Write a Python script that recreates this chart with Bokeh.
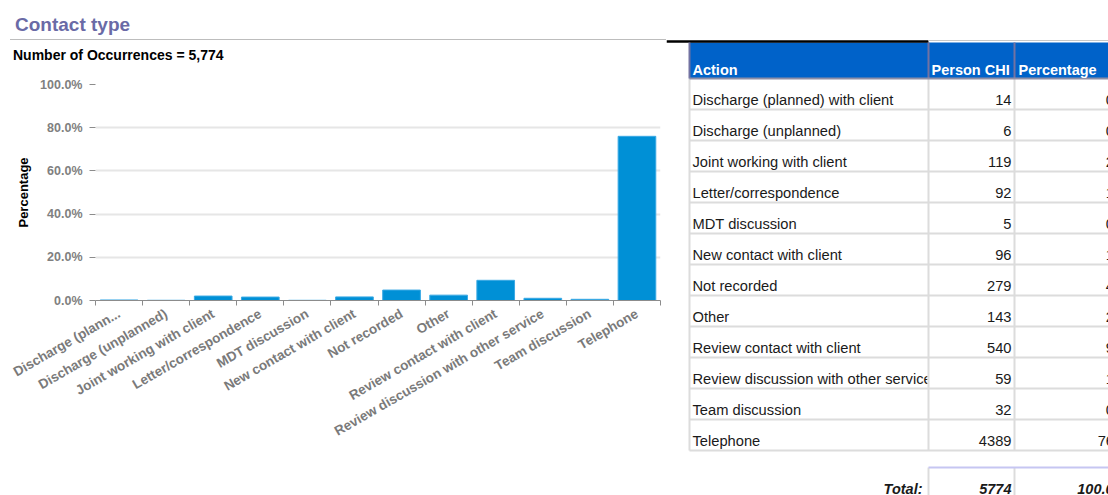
import math
from bokeh.plotting import figure
from bokeh.layouts import row, column
from bokeh.models import Range1d, FixedTicker, PrintfTickFormatter, Div
from bokeh.core.properties import value
from bokeh.embed import file_html
from bokeh.resources import INLINE

# ---------------- data ----------------
categories = ["Discharge (planned) with client", "Discharge (unplanned)", "Joint working with client",
              "Letter/correspondence", "MDT discussion", "New contact with client", "Not recorded",
              "Other", "Review contact with client", "Review discussion with other service",
              "Team discussion", "Telephone"]
tick_labels = ["Discharge (plann...", "Discharge (unplanned)", "Joint working with client",
               "Letter/correspondence", "MDT discussion", "New contact with client", "Not recorded",
               "Other", "Review contact with client", "Review discussion with other service",
               "Team discussion", "Telephone"]
counts = [14, 6, 119, 92, 5, 96, 279, 143, 540, 59, 32, 4389]
percentages = [0.24, 0.10, 2.06, 1.59, 0.09, 1.66, 4.83, 2.48, 9.35, 1.02, 0.55, 76.01]
pct_labels = ["0.24%", "0.10%", "2.06%", "1.59%", "0.09%", "1.66%", "4.83%", "2.48%",
              "9.35%", "1.02%", "0.55%", "76.01%"]
total_count = 5774
total_pct = "100.00%"
y_ticks = [0, 20, 40, 60, 80, 100]
header = ["Action", "Person CHI", "Percentage"]
page_title = "Contact type"

FONT = "Liberation Sans"
n = len(categories)

# ---------------- top strip (title, rule, subtitle) ----------------
top_html = (
    '<div style="position:relative;width:666px;height:65px;font-family:\'Liberation Sans\',Arial,sans-serif;">'
    '<div style="position:absolute;left:15px;top:15px;font-size:19px;line-height:19px;font-weight:bold;'
    'color:#6a6aa6;white-space:nowrap;">{title}</div>'
    '<div style="position:absolute;left:10px;top:39px;width:656px;height:0;border-top:1px solid #bdbdbd;"></div>'
    '<div style="position:absolute;left:13px;top:48px;font-size:14px;line-height:14px;font-weight:bold;'
    'color:#000;white-space:nowrap;">{sub}</div>'
    '</div>'
).format(title=page_title, sub="Number of Occurrences = {:,}".format(total_count))
top = Div(text=top_html, width=666, height=65, margin=(0, 0, 0, 0))

# ---------------- bar chart ----------------
centers = [i + 0.5 for i in range(n)]
bounds = list(range(n + 1))

chart = figure(width=666, height=430, x_range=Range1d(0, n), y_range=Range1d(0, 100),
               output_backend="svg", toolbar_location=None,
               min_border_left=95, min_border_right=6, min_border_top=19, min_border_bottom=195,
               outline_line_color=None)
chart.vbar(x=centers, top=percentages, bottom=0, width=0.8,
           fill_color="#0090d6", line_color="#3aa9e4", line_width=1)

xa = chart.xaxis[0]
xa.ticker = FixedTicker(ticks=centers, minor_ticks=bounds)
xa.major_label_overrides = {c: lab for c, lab in zip(centers, tick_labels)}
xa.major_label_orientation = math.pi / 6
xa.major_tick_line_color = None
xa.major_tick_out = 0
xa.major_tick_in = 0
xa.minor_tick_line_color = "#8c8c8c"
xa.minor_tick_out = 5
xa.minor_tick_in = 0
xa.axis_line_color = "#8c8c8c"
xa.major_label_text_font = FONT
xa.major_label_text_font_size = "13.5px"
xa.major_label_text_font_style = "bold"
xa.major_label_text_color = "#7a7a7a"
xa.major_label_standoff = 7

ya = chart.yaxis[0]
ya.ticker = FixedTicker(ticks=y_ticks)
ya.formatter = PrintfTickFormatter(format="%.1f%%")
ya.axis_line_color = None
ya.major_tick_out = 6
ya.major_tick_in = 0
ya.major_tick_line_color = "#8c8c8c"
ya.minor_tick_line_color = None
ya.major_label_standoff = 7
ya.major_label_text_font = FONT
ya.major_label_text_font_size = "12.5px"
ya.major_label_text_font_style = "bold"
ya.major_label_text_color = "#808080"
ya.axis_label = "Percentage"
ya.axis_label_text_font = FONT
ya.axis_label_text_font_size = "13px"
ya.axis_label_text_font_style = "bold"
ya.axis_label_text_color = "black"
ya.axis_label_standoff = 6

chart.xgrid.visible = False
chart.ygrid.ticker = FixedTicker(ticks=y_ticks)
chart.ygrid.grid_line_color = "#e6e6e6"
chart.ygrid.grid_line_width = 2

# ---------------- table ----------------
tbl = figure(width=442, height=495, x_range=Range1d(666, 1108), y_range=Range1d(495, 0),
             output_backend="svg", toolbar_location=None, x_axis_type=None, y_axis_type=None,
             min_border=0, outline_line_color=None)

x_left, x_c1, x_c2, x_right = 689, 928, 1014, 1160
h_top, h_bot, row_h = 42, 78, 31
row_bottoms = [h_bot + row_h * (i + 1) for i in range(n)]
row_mids = [b - 9.5 for b in row_bottoms]
tbl_bottom = row_bottoms[-1]
tot_top = 467

tbl.quad(left=[x_left], right=[x_right], top=[h_top], bottom=[h_bot],
         fill_color="#0062c9", line_color=None)

txt_kw = dict(text_font=value(FONT), text_font_size="14.7px", text_baseline="middle",
              text_color="#1a1a1a")
tbl.text(x=[692] * n, y=row_mids, text=categories, text_align="left", **txt_kw)
# mask the part of an action name that runs past its cell
tbl.quad(left=[x_c1 - 1] * n, right=[x_c2] * n, top=[b - row_h + 1 for b in row_bottoms],
         bottom=row_bottoms, fill_color="white", line_color=None)
tbl.text(x=[1011] * n, y=row_mids, text=[str(c) for c in counts], text_align="right", **txt_kw)
tbl.text(x=[1147] * n, y=row_mids, text=pct_labels, text_align="right", **txt_kw)

# grid lines
grey = "#dcdcdc"
tbl.segment(x0=[x_left] * n, y0=row_bottoms, x1=[x_right] * n, y1=row_bottoms,
            line_color=grey, line_width=2)
tbl.segment(x0=[x_left, x_c1, x_c2], y0=[h_bot] * 3, x1=[x_left, x_c1, x_c2], y1=[tbl_bottom] * 3,
            line_color=grey, line_width=2)
tbl.segment(x0=[x_c1, x_c2], y0=[tot_top] * 2, x1=[x_c1, x_c2], y1=[500] * 2,
            line_color=grey, line_width=2)
tbl.segment(x0=[x_c1], y0=[tot_top], x1=[x_right], y1=[tot_top], line_color="#c6c6f2", line_width=2)

# header borders
tbl.segment(x0=[666], y0=[41], x1=[x_c1], y1=[41], line_color="black", line_width=2.5)
tbl.segment(x0=[x_c1], y0=[40], x1=[x_right], y1=[40], line_color="#c8c8c8", line_width=1)
tbl.segment(x0=[x_left, x_c1, x_c2], y0=[h_top] * 3, x1=[x_left, x_c1, x_c2], y1=[h_bot] * 3,
            line_color="#7272a2", line_width=2)
tbl.segment(x0=[x_left], y0=[h_bot], x1=[x_right], y1=[h_bot], line_color="#8e8ea6", line_width=2)

tbl.text(x=[692, 931, 1018], y=[69, 69, 69], text=header, text_font=value(FONT),
         text_font_size="14.5px", text_font_style="bold", text_color="white",
         text_baseline="middle", text_align="left")

tot_kw = dict(text_font=value(FONT), text_font_size="14.5px", text_font_style="bold italic",
              text_color="#1a1a1a", text_baseline="middle", text_align="right")
tbl.text(x=[922, 1011, 1134], y=[488, 488, 488], text=["Total:", str(total_count), total_pct], **tot_kw)

layout = row(column(top, chart), tbl)
open("out.html", "w").write(file_html(layout, INLINE))
